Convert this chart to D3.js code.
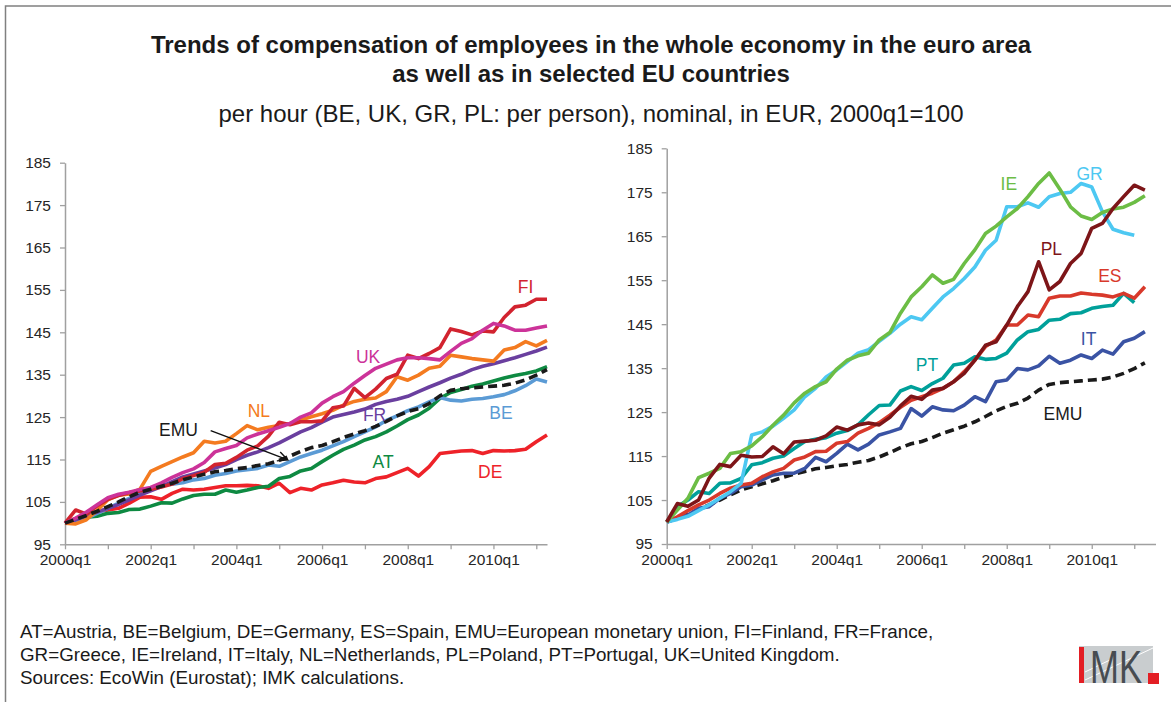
<!DOCTYPE html>
<html>
<head>
<meta charset="utf-8">
<script src="https://cdn.jsdelivr.net/npm/d3@7"></script>
<style>
  body { margin: 0; background: #fff; }
  svg { display: block; font-family: "Liberation Sans", Arial, sans-serif; }
</style>
</head>
<body>
<svg id="chart" width="1171" height="702"></svg>
<script>
// quarters 2000q1 .. 2011q2
const quarters = d3.range(46).map(i => `${2000 + Math.floor(i / 4)}q${i % 4 + 1}`)
const yTicks = [95, 105, 115, 125, 135, 145, 155, 165, 175, 185]
const xTickQuarters = quarters.filter(q => q.endsWith('q1'))
const xLabelQuarters = ['2000q1', '2002q1', '2004q1', '2006q1', '2008q1', '2010q1']

// left panel
const fi = [100, 103.1, 102.1, 104.1, 105.6, 106.5, 107.2, 107.6, 108, 108.5, 109.2, 110.5, 111.2, 112, 113.8, 114.1,
  115.5, 117.2, 118.2, 120.5, 123.8, 123.2, 123.9, 123.9, 124.1, 127.2, 127.6, 131.8, 129.6, 131.6, 134.1, 135.1,
  139.6, 138.8, 140, 141.4, 145.8, 145.2, 144.4, 145.3, 145.1, 148.5, 151, 151.4, 152.8, 152.8]
const uk = [100, 101.2, 102.6, 104.3, 106, 106.8, 107.3, 107.9, 108.4, 109.5, 110.8, 111.9, 112.8, 114.3, 116.8, 117.6,
  118.3, 120.1, 121, 121.8, 122.6, 123.5, 125, 126, 128.3, 129.8, 131, 133, 134.8, 136.5, 137.5, 138.5,
  139, 139, 138.8, 138.5, 140.5, 142.4, 143.5, 145.5, 147.1, 146.5, 145.5, 145.5, 146, 146.5]
const nl = [100, 99.8, 100.8, 103, 105.5, 106.6, 106.9, 108, 112.2, 113.4, 114.5, 115.6, 116.6, 119.3, 118.9, 119.3,
  121.1, 123, 122, 122.6, 123, 123.5, 124.3, 125.1, 125.8, 126.6, 127.8, 128.7, 129.2, 129.5, 131, 134.5,
  133.7, 134.9, 136.5, 137, 139.6, 139.2, 138.8, 138.5, 138.2, 140.8, 141.4, 142.8, 141.8, 143.1]
const fr = [100, 100.8, 101.7, 102.6, 103.5, 104.4, 105.5, 106.6, 107.6, 108.6, 109.8, 110.9, 111.6, 112.3, 113, 113.8,
  115, 116, 116.8, 117.8, 118.9, 120.2, 121.5, 122.5, 123.8, 125, 125.6, 126.2, 126.9, 128, 128.7, 129.2,
  129.9, 131, 132.1, 133.1, 134.2, 135.1, 136.2, 137, 137.6, 138.3, 139, 139.8, 140.6, 141.5]
const emu = [100, 100.9, 101.8, 102.8, 103.9, 105, 106.2, 107.3, 108, 108.7, 109.4, 110.2, 110.9, 111.5, 112.1, 112.4,
  112.8, 113.1, 113.6, 114, 114.8, 115.8, 116.9, 117.8, 118.3, 119.2, 120.2, 121, 121.8, 122.8, 124, 125.3,
  126.3, 127, 128.2, 130, 131.3, 131.7, 131.9, 132.1, 132.3, 132.5, 133, 133.8, 134.9, 136.2]
const be = [100, 100.3, 101.1, 102.3, 103.5, 104.7, 105.8, 107, 107.8, 109, 109.2, 109.5, 110.2, 110.5, 111.3, 111.7,
  112.3, 112.6, 112.9, 113.7, 113.4, 114.5, 115.6, 116.4, 117.2, 118.2, 119.2, 120.4, 121.5, 122.7, 124.2, 125.3,
  126.5, 127.4, 128.6, 129.6, 129, 128.8, 129.2, 129.4, 129.8, 130.3, 131.2, 132.4, 134, 133.3]
const at = [100, 100.7, 101.4, 101.6, 102.3, 102.5, 103.2, 103.3, 104, 104.8, 104.7, 105.7, 106.5, 106.8, 106.8, 107.8,
  107.3, 107.8, 108.4, 108.7, 110.5, 111, 112.3, 112.9, 114.5, 116, 117.4, 118.4, 119.6, 120.4, 121.5, 122.9,
  124.4, 125.5, 127.1, 129.4, 130.8, 131.5, 132.3, 132.8, 133.5, 134.2, 134.8, 135.3, 135.9, 136.9]
const de = [100, 101.1, 101.8, 102.7, 103.1, 103.5, 104.7, 106.1, 106.2, 105.6, 107, 108, 107.8, 108, 108.4, 108.8,
  108.8, 108.9, 108.8, 108.2, 109.4, 107.2, 108.2, 107.8, 109, 109.5, 110.1, 109.7, 109.5, 110.5, 110.9, 111.9,
  112.9, 111.1, 113.3, 116.4, 116.7, 117, 117.1, 116.4, 117.1, 117, 117.1, 117.4, 119.2, 120.8]

// right panel
const ie = [100, 102.7, 105.4, 110.1, 111.1, 112.2, 115.6, 116, 117.3, 119.4, 122, 124.3, 127.1, 129.3, 130.8, 131.9,
  134.8, 136.8, 137.8, 138.4, 141.4, 143.1, 147.5, 151.2, 153.5, 156.2, 154.3, 155.2, 158.8, 161.9, 165.6, 167.3,
  169.4, 171.3, 174, 177, 179.4, 175.7, 171.7, 169.6, 168.8, 170.4, 171.2, 171.6, 172.7, 174.2]
const gr = [100, 100.6, 101.3, 102.6, 103.9, 105.4, 106.9, 108.8, 119.8, 120.5, 121.8, 123.6, 125.5, 128.5, 130.4, 133,
  134.6, 136.5, 138.4, 139.2, 141.1, 142.9, 145, 146.7, 146, 148.6, 151.2, 153.1, 155.4, 158, 161.8, 164.1,
  171.7, 171.7, 172.6, 171.6, 174, 174.7, 175, 177, 176.2, 170.6, 166.6, 165.8, 165.2]
const pl = [100, 104.2, 103.6, 105, 110, 113.1, 112.6, 115.2, 114.8, 114.9, 117.1, 115.5, 118.2, 118.4, 118.6, 119.6,
  121.6, 120.9, 122.1, 122.5, 122.1, 123.8, 126.4, 128.6, 127.9, 130, 130.4, 131.9, 133.8, 136.8, 140.2, 141,
  144.8, 149, 152.4, 159.2, 152.8, 154.7, 158.8, 161.1, 166.8, 167.9, 171.3, 174, 176.6, 175.5]
const es = [100, 101.2, 102.6, 103.9, 105, 106.5, 107.7, 108.4, 108.8, 110.3, 111.4, 112.2, 114.1, 114.8, 116, 116.1,
  117.9, 118.3, 120.2, 121.3, 122.6, 124.3, 126.1, 127.7, 128.5, 129.3, 130.4, 131.9, 134.2, 136.8, 139.9, 141.4,
  144.8, 144.8, 147.1, 146.7, 150.9, 151.4, 151.4, 152.1, 151.8, 151.6, 151.2, 152, 150.9, 153.5]
const pt = [100, 103.5, 105, 106.9, 106.5, 108.8, 108.9, 109.9, 113, 113.5, 114.5, 115, 116.7, 118.3, 118.8, 119.2,
  120.2, 120.8, 122.1, 124.4, 126.5, 126.6, 129.8, 130.8, 129.9, 131.5, 132.7, 135.7, 136.1, 137.6, 137, 137.2,
  138.4, 141.4, 143.3, 143.8, 145.9, 146.1, 147.4, 147.6, 148.6, 149, 149.3, 152, 149.9]
const it = [100, 100.8, 101.6, 103.1, 103.5, 105.4, 106.5, 108, 108.4, 109.6, 110.7, 111.1, 111.1, 112.2, 114.7, 113.7,
  115.6, 117.7, 116.4, 117.7, 119.8, 120.5, 121.3, 125.8, 124.1, 126.2, 125.5, 125.3, 126.6, 128.5, 127.4, 131.9,
  132.3, 134.9, 134.6, 135.5, 137.7, 136.1, 136.8, 138, 137.2, 139.1, 138.2, 141, 141.8, 143.3]

const footnotes = [
  'AT=Austria, BE=Belgium, DE=Germany, ES=Spain, EMU=European monetary union, FI=Finland, FR=France,',
  'GR=Greece, IE=Ireland, IT=Italy, NL=Netherlands, PL=Poland, PT=Portugal, UK=United Kingdom.',
  'Sources: EcoWin (Eurostat); IMK calculations.'
]

const svg = d3.select('#chart')
const axisColor = '#a0a0a0'

// outer frame
svg.append('rect')
  .attr('x', 5.5).attr('y', 6).attr('width', 1200).attr('height', 760)
  .attr('fill', 'none').attr('stroke', '#808080').attr('stroke-width', 1.5)

// titles
const title = svg.append('g').attr('text-anchor', 'middle').attr('fill', '#1a1a1a')
title.append('text').attr('x', 591).attr('y', 53)
  .attr('font-size', 24).attr('font-weight', 'bold')
  .text('Trends of compensation of employees in the whole economy in the euro area')
title.append('text').attr('x', 591).attr('y', 82)
  .attr('font-size', 24).attr('font-weight', 'bold')
  .text('as well as in selected EU countries')
title.append('text').attr('x', 591).attr('y', 122)
  .attr('font-size', 24)
  .text('per hour (BE, UK, GR, PL: per person), nominal, in EUR, 2000q1=100')

function drawPanel(cfg) {
  const x = d3.scaleLinear().domain(cfg.xDomain).range(cfg.xRange)
  const y = d3.scaleLinear().domain([95, 185]).range(cfg.yRange)
  const g = svg.append('g')

  // y axis
  const yAxis = g.append('g')
    .attr('transform', `translate(${cfg.xRange[0]},0)`)
    .call(d3.axisLeft(y).tickValues(yTicks).tickSize(5).tickPadding(9).tickSizeOuter(0))
  // x axis, a tick every year, a label every second year
  const xAxis = g.append('g')
    .attr('transform', `translate(0,${cfg.yRange[0]})`)
    .call(d3.axisBottom(x)
      .tickValues(xTickQuarters.map(q => quarters.indexOf(q)))
      .tickFormat(i => xLabelQuarters.includes(quarters[i]) ? quarters[i] : '')
      .tickSize(5).tickPadding(5).tickSizeOuter(0))

  for (const ax of [yAxis, xAxis]) {
    ax.select('.domain').attr('stroke', axisColor).attr('stroke-width', 1.5)
    ax.selectAll('.tick line').attr('stroke', axisColor).attr('stroke-width', 1.3)
    ax.selectAll('.tick text')
      .attr('fill', '#262626').attr('font-size', 15.5)
      .attr('font-family', '"Liberation Sans", Arial, sans-serif')
  }

  const line = d3.line().x((d, i) => x(i)).y(d => y(d))

  g.append('g')
    .selectAll('path')
    .data(cfg.series)
    .join('path')
    .attr('d', d => line(d.values))
    .attr('fill', 'none')
    .attr('stroke', d => d.color)
    .attr('stroke-width', 3.6)
    .attr('stroke-linejoin', 'round')
    .attr('stroke-dasharray', d => d.dashed ? '9,5' : null)

  g.append('g')
    .selectAll('text')
    .data(cfg.labels)
    .join('text')
    .attr('x', d => x(d.at[0]))
    .attr('y', d => y(d.at[1]))
    .attr('dy', '0.36em')
    .attr('text-anchor', 'middle')
    .attr('font-size', 17.5)
    .attr('fill', d => d.color)
    .text(d => d.name)

  return { x, y, g }
}

const left = drawPanel({
  xDomain: [0, 45], xRange: [65, 547], yRange: [544.3, 162.7],
  series: [
    { name: 'DE', values: de, color: '#ee2229' },
    { name: 'AT', values: at, color: '#0e8a42' },
    { name: 'BE', values: be, color: '#5b9bd5' },
    { name: 'FR', values: fr, color: '#6a3f9f' },
    { name: 'NL', values: nl, color: '#f47b20' },
    { name: 'FI', values: fi, color: '#d2232f' },
    { name: 'UK', values: uk, color: '#cc3399' },
    { name: 'EMU', values: emu, color: '#1a1a1a', dashed: true }
  ],
  labels: [
    { name: 'FI', at: [43, 155.7], color: '#d2232f' },
    { name: 'UK', at: [28.3, 139.2], color: '#cc3399' },
    { name: 'NL', at: [18.1, 126.6], color: '#f47b20' },
    { name: 'FR', at: [28.9, 125.5], color: '#6a3f9f' },
    { name: 'EMU', at: [10.6, 122.1], color: '#1a1a1a' },
    { name: 'BE', at: [40.7, 126], color: '#5b9bd5' },
    { name: 'AT', at: [29.7, 114.4], color: '#0e8a42' },
    { name: 'DE', at: [39.7, 112.1], color: '#ee2229' }
  ]
})

// arrow from the EMU label to its line
const ax0 = left.x(13.6), ay0 = left.y(121.8)
const ax1 = left.x(20.8), ay1 = left.y(114.9)
const ang = Math.atan2(ay1 - ay0, ax1 - ax0)
const head = 11
left.g.append('path')
  .attr('d', `M${ax0},${ay0}L${ax1},${ay1}` +
    `M${ax1 - head * Math.cos(ang - 0.45)},${ay1 - head * Math.sin(ang - 0.45)}L${ax1},${ay1}` +
    `L${ax1 - head * Math.cos(ang + 0.45)},${ay1 - head * Math.sin(ang + 0.45)}`)
  .attr('fill', 'none').attr('stroke', '#111').attr('stroke-width', 1.4)

drawPanel({
  xDomain: [0, 46], xRange: [666.7, 1155.5], yRange: [544, 148.3],
  series: [
    { name: 'EMU', values: emu, color: '#1a1a1a', dashed: true },
    { name: 'IT', values: it, color: '#3a53a4' },
    { name: 'PT', values: pt, color: '#00a09a' },
    { name: 'ES', values: es, color: '#d8392b' },
    { name: 'GR', values: gr, color: '#4dc8f2' },
    { name: 'IE', values: ie, color: '#6cbd45' },
    { name: 'PL', values: pl, color: '#7d1518' }
  ],
  labels: [
    { name: 'IE', at: [32.2, 177], color: '#6cbd45' },
    { name: 'GR', at: [39.8, 179.3], color: '#4dc8f2' },
    { name: 'PL', at: [36.2, 162.2], color: '#7d1518' },
    { name: 'ES', at: [41.7, 156], color: '#d8392b' },
    { name: 'PT', at: [24.5, 135.7], color: '#00a09a' },
    { name: 'IT', at: [39.7, 141.8], color: '#3a53a4' },
    { name: 'EMU', at: [37.3, 124.6], color: '#1a1a1a' }
  ]
})

// footnotes
svg.append('g')
  .selectAll('text')
  .data(footnotes)
  .join('text')
  .attr('x', 20)
  .attr('y', (d, i) => 637.5 + i * 23)
  .attr('font-size', 18.8)
  .attr('fill', '#1a1a1a')
  .text(d => d)

// IMK logo
const logo = svg.append('g')
logo.append('rect').attr('x', 1079).attr('y', 646).attr('width', 74).attr('height', 37).attr('fill', '#c9cdcf')
logo.append('path').attr('d', 'M1085,680L1153,648M1085,672L1112,659')
  .attr('stroke', '#fff').attr('stroke-width', 1)
logo.append('rect').attr('x', 1079).attr('y', 647).attr('width', 5).attr('height', 36).attr('fill', '#e31e24')
logo.append('text').attr('x', 1090).attr('y', 683)
  .attr('font-size', 46).attr('fill', '#474c51')
  .attr('textLength', 52).attr('lengthAdjust', 'spacingAndGlyphs')
  .text('MK')
logo.append('rect').attr('x', 1148).attr('y', 673).attr('width', 11).attr('height', 11).attr('fill', '#e31e24')
</script>
</body>
</html>
